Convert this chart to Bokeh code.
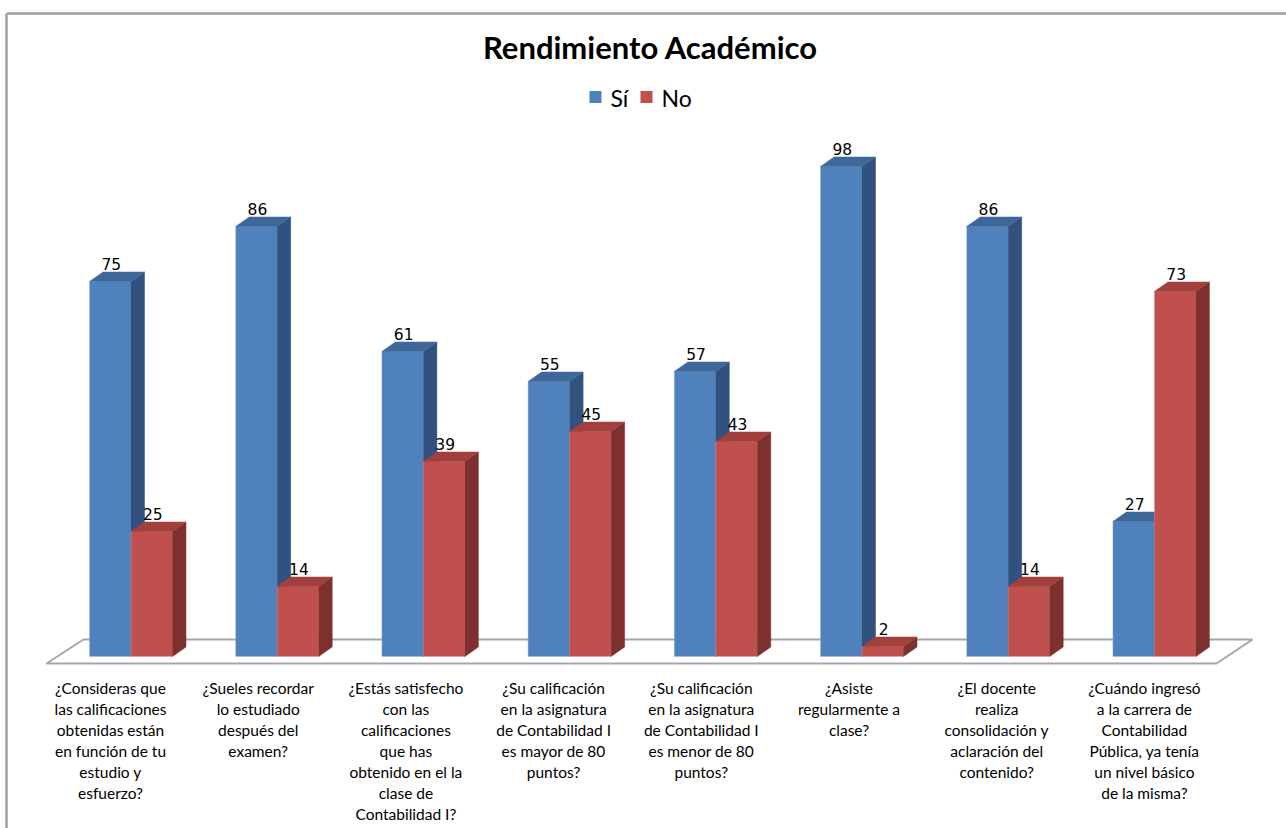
import numpy as np
from bokeh.plotting import figure
from bokeh.models import Range1d, ColumnDataSource
from bokeh.core.properties import value
from bokeh.embed import file_html
from bokeh.resources import INLINE

# ---------------- data ----------------
title_text = "Rendimiento Académico"
series_names = ["Sí", "No"]
categories = [
    "¿Consideras que\nlas calificaciones\nobtenidas están\nen función de tu\nestudio y\nesfuerzo?",
    "¿Sueles recordar\nlo estudiado\ndespués del\nexamen?",
    "¿Estás satisfecho\ncon las\ncalificaciones\nque has\nobtenido en el la\nclase de\nContabilidad I?",
    "¿Su calificación\nen la asignatura\nde Contabilidad I\nes mayor de 80\npuntos?",
    "¿Su calificación\nen la asignatura\nde Contabilidad I\nes menor de 80\npuntos?",
    "¿Asiste\nregularmente a\nclase?",
    "¿El docente\nrealiza\nconsolidación y\naclaración del\ncontenido?",
    "¿Cuándo ingresó\na la carrera de\nContabilidad\nPública, ya tenía\nun nivel básico\nde la misma?",
]
si_values = [75, 86, 61, 55, 57, 98, 86, 27]
no_values = [25, 14, 39, 45, 43, 2, 14, 73]

# ---------------- styling / geometry ----------------
W, H = 1286, 828
PAGE_OFF = 0
XPX = 146.2          # pixels per category
YPX = 5.0            # pixels per value unit
X0P = 130.5          # picture x of category 0 (junction of the two bars)
Y0P = 656.0          # picture y of value 0

FONT = "Lato"
NUM_FONT = "DejaVu Sans"

SI_FRONT, SI_TOP, SI_SIDE = "#4F81BD", "#3E679A", "#31527E"
NO_FRONT, NO_TOP, NO_SIDE = "#C0504D", "#A2403D", "#7D302E"


def px_x(page_x):
    return (page_x - X0P) / XPX


def px_y(page_y):
    return (Y0P - page_y) / YPX


def wx(px):
    return px / XPX


def wy(px):
    return px / YPX


p = figure(
    width=W, height=H,
    x_range=Range1d(px_x(PAGE_OFF), px_x(PAGE_OFF + W)),
    y_range=Range1d(px_y(PAGE_OFF + H), px_y(PAGE_OFF)),
    output_backend="svg", toolbar_location=None,
    x_axis_type=None, y_axis_type=None, min_border=0,
)
p.grid.visible = False
p.outline_line_color = None
p.background_fill_color = "white"
p.border_fill_color = "white"

# chart border (top and left edges visible)
p.segment(x0=[px_x(6), px_x(6)], y0=[px_y(13), px_y(13)],
          x1=[px_x(1300), px_x(6)], y1=[px_y(13), px_y(840)],
          line_color="#A0A0A0", line_width=2.5)

# floor
floor_x = [px_x(46), px_x(1216), px_x(1252), px_x(83)]
floor_y = [px_y(663), px_y(663), px_y(639), px_y(639)]
p.patch(floor_x, floor_y, fill_color="white", line_color="#A6A6A6", line_width=2)

# ---------------- bars ----------------
cats = np.arange(len(categories))
bw = wx(41.5)
ddx = wx(13.5)
ddy = wy(9.5)


def draw_series(vals, left, front, top, side, edge):
    vals = np.array(vals, dtype=float)
    right = left + bw
    # front
    p.quad(left=left, right=right, bottom=np.zeros_like(vals), top=vals,
           fill_color=front, line_color=edge, line_width=0.7, line_alpha=0.6)
    # side
    xs_side = [[r, r + ddx, r + ddx, r] for r in right]
    ys_side = [[0, ddy, v + ddy, v] for v in vals]
    p.patches(xs_side, ys_side, fill_color=side, line_color=side, line_width=0.5)
    # top
    xs_top = [[l, l + ddx, r + ddx, r] for l, r in zip(left, right)]
    ys_top = [[v, v + ddy, v + ddy, v] for v in vals]
    p.patches(xs_top, ys_top, fill_color=top, line_color=top, line_width=0.5)
    # value labels
    src = ColumnDataSource(dict(x=left + bw / 2 + wx(1), y=vals + wy(11.5),
                                t=[str(int(v)) for v in vals]))
    p.text(x="x", y="y", text="t", source=src, text_align="center",
           text_baseline="bottom", text_font=value(NUM_FONT),
           text_font_size="15.5px", text_color="#000000")


draw_series(si_values, cats - bw, SI_FRONT, SI_TOP, SI_SIDE, "#9DB7D9")
draw_series(no_values, cats.astype(float), NO_FRONT, NO_TOP, NO_SIDE, "#DDA09E")

# ---------------- category labels ----------------
label_step = 147.7 / XPX
lab_src = ColumnDataSource(dict(
    x=px_x(110) + cats * label_step,
    y=np.full(len(categories), px_y(678)),
    t=categories,
))
p.text(x="x", y="y", text="t", source=lab_src, text_align="center",
       text_baseline="top", text_font=value(FONT), text_font_size="15.5px",
       text_line_height=1.17, text_color="#000000")

# ---------------- title ----------------
p.text(x=[px_x(650)], y=[px_y(46)], text=[title_text], text_align="center",
       text_baseline="middle", text_font=value(FONT), text_font_style="bold",
       text_font_size="31px", text_color="#000000")

# ---------------- legend ----------------
leg_colors = [SI_FRONT, NO_FRONT]
leg_sq_x = [px_x(595), px_x(646)]
leg_tx_x = [px_x(610), px_x(661)]
p.rect(x=leg_sq_x, y=[px_y(96.5)] * 2, width=12, height=12,
       width_units="screen", height_units="screen",
       fill_color=leg_colors, line_color=None)
p.text(x=leg_tx_x, y=[px_y(97)] * 2, text=series_names, text_align="left",
       text_baseline="middle", text_font=value(FONT),
       text_font_size="23px", text_color="#000000")

open("out.html", "w").write(file_html(p, INLINE))
